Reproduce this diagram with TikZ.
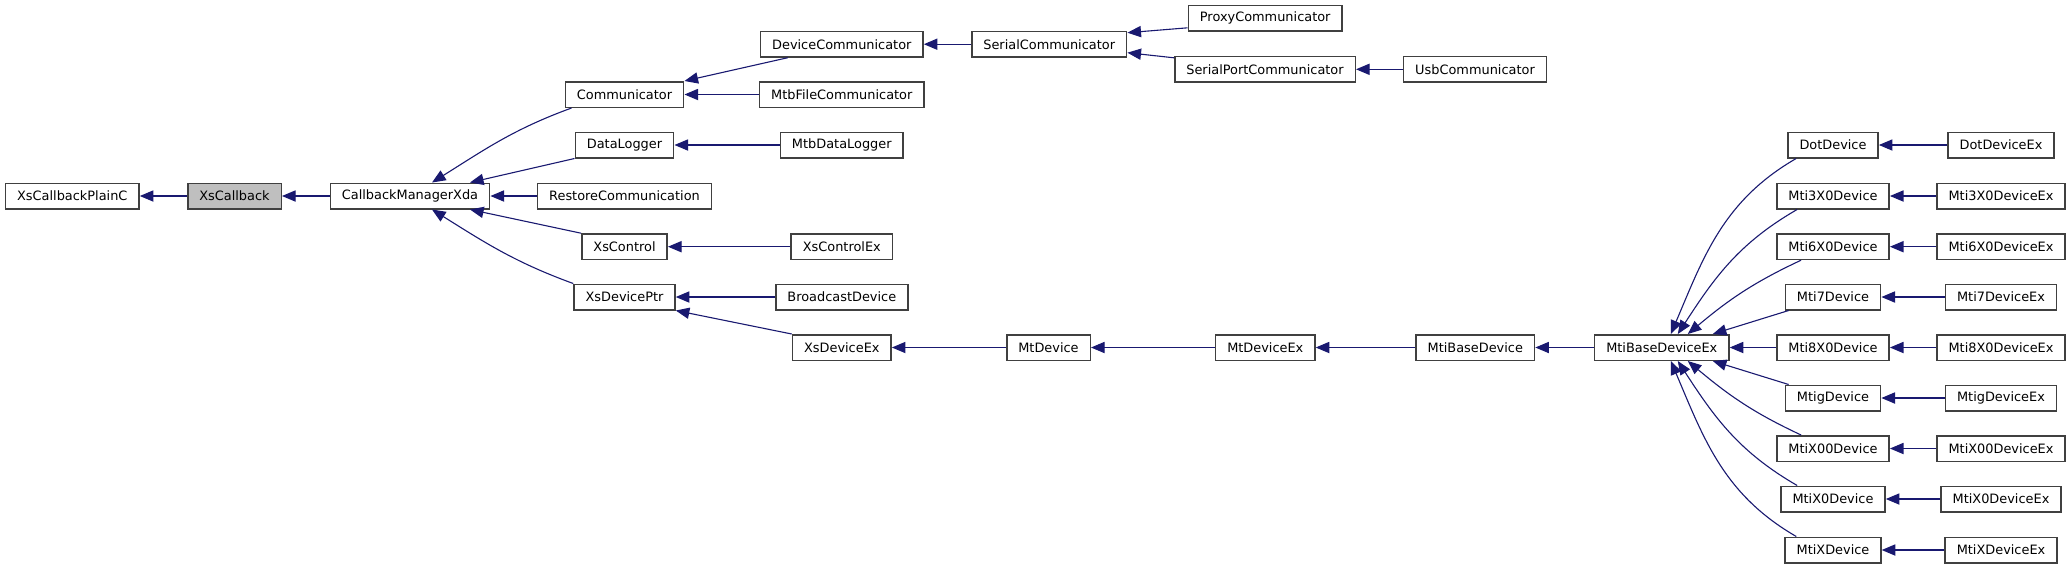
\documentclass[tikz,border=0pt]{standalone}
\usepackage{fontspec}
\setmainfont{DejaVu Sans}
\usepackage{tikz}
\usetikzlibrary{arrows.meta}
\definecolor{midnightblue}{RGB}{25,25,112}
\definecolor{boxgray}{RGB}{64,64,64}

\begin{document}
\begin{tikzpicture}[x=0.5pt, y=0.5pt,
  cls/.style={draw=boxgray, line width=0.75pt, fill=white, minimum height=12.75pt,
    inner xsep=5.8pt, inner ysep=0pt, font=\fontsize{6.45pt}{7.5pt}\selectfont},
  current/.style={cls, fill=black!25},
  edge/.style={midnightblue, line width=0.55pt, -{Triangle[length=6.8pt,width=5.6pt]}}]
\path[use as bounding box] (0,0) rectangle (2071,-569);

\node[cls] (xsCallbackPlainC) at (72.3,-196) {XsCallbackPlainC};
\node[current] (xsCallback) at (234.5,-196) {XsCallback};
\node[cls] (callbackManagerXda) at (410,-196) {CallbackManagerXda};

\node[cls] (communicator) at (624.5,-94.5) {Communicator};
\node[cls] (dataLogger) at (624.5,-145) {DataLogger};
\node[cls] (restoreCommunication) at (624.5,-196) {RestoreCommunication};
\node[cls] (xsControl) at (624.5,-246.7) {XsControl};
\node[cls] (xsDevicePtr) at (624.5,-297) {XsDevicePtr};

\node[cls] (deviceCommunicator) at (841.8,-44.2) {DeviceCommunicator};
\node[cls] (mtbFileCommunicator) at (841.8,-94.5) {MtbFileCommunicator};
\node[cls] (mtbDataLogger) at (841.8,-145) {MtbDataLogger};
\node[cls] (xsControlEx) at (841.8,-246.7) {XsControlEx};
\node[cls] (broadcastDevice) at (841.8,-297) {BroadcastDevice};
\node[cls] (xsDeviceEx) at (841.8,-347.5) {XsDeviceEx};

\node[cls] (serialCommunicator) at (1049.2,-44.2) {SerialCommunicator};
\node[cls] (mtDevice) at (1048.5,-347.5) {MtDevice};

\node[cls] (proxyCommunicator) at (1265.2,-18.3) {ProxyCommunicator};
\node[cls] (serialPortCommunicator) at (1265,-69.3) {SerialPortCommunicator};
\node[cls] (mtDeviceEx) at (1265.3,-347.5) {MtDeviceEx};

\node[cls] (usbCommunicator) at (1475,-69.3) {UsbCommunicator};
\node[cls] (mtiBaseDevice) at (1475.3,-347.5) {MtiBaseDevice};
\node[cls] (mtiBaseDeviceEx) at (1661.8,-347.5) {MtiBaseDeviceEx};

\node[cls] (dotDevice) at (1833,-145) {DotDevice};
\node[cls] (mti3X0Device) at (1833,-196) {Mti3X0Device};
\node[cls] (mti6X0Device) at (1833,-246.7) {Mti6X0Device};
\node[cls] (mti7Device) at (1833,-297) {Mti7Device};
\node[cls] (mti8X0Device) at (1833,-347.5) {Mti8X0Device};
\node[cls] (mtigDevice) at (1833,-398) {MtigDevice};
\node[cls] (mtiX00Device) at (1833,-448.5) {MtiX00Device};
\node[cls] (mtiX0Device) at (1833,-499) {MtiX0Device};
\node[cls] (mtiXDevice) at (1833,-550) {MtiXDevice};

\node[cls] (dotDeviceEx) at (2001,-145) {DotDeviceEx};
\node[cls] (mti3X0DeviceEx) at (2001,-196) {Mti3X0DeviceEx};
\node[cls] (mti6X0DeviceEx) at (2001,-246.7) {Mti6X0DeviceEx};
\node[cls] (mti7DeviceEx) at (2001,-297) {Mti7DeviceEx};
\node[cls] (mti8X0DeviceEx) at (2001,-347.5) {Mti8X0DeviceEx};
\node[cls] (mtigDeviceEx) at (2001,-398) {MtigDeviceEx};
\node[cls] (mtiX00DeviceEx) at (2001,-448.5) {MtiX00DeviceEx};
\node[cls] (mtiX0DeviceEx) at (2001,-499) {MtiX0DeviceEx};
\node[cls] (mtiXDeviceEx) at (2001,-550) {MtiXDeviceEx};

\draw[edge] (xsCallback.west) -- (xsCallbackPlainC.east);
\draw[edge] (callbackManagerXda.west) -- (xsCallback.east);

\draw[edge] ([shift={(7,0)}]communicator.south west) to[out=200,in=32] ([shift={(22,0)}]callbackManagerXda.north);
\draw[edge] (dataLogger.south west) -- ([shift={(60,0)}]callbackManagerXda.north);
\draw[edge] (restoreCommunication.west) -- (callbackManagerXda.east);
\draw[edge] (xsControl.north west) -- ([shift={(60,0)}]callbackManagerXda.south);
\draw[edge] (xsDevicePtr.north west) to[out=160,in=-32] ([shift={(22,0)}]callbackManagerXda.south);

\draw[edge] ([shift={(28,0)}]deviceCommunicator.south west) -- (communicator.north east);
\draw[edge] (mtbFileCommunicator.west) -- (communicator.east);
\draw[edge] (mtbDataLogger.west) -- (dataLogger.east);
\draw[edge] (xsControlEx.west) -- (xsControl.east);
\draw[edge] (broadcastDevice.west) -- (xsDevicePtr.east);
\draw[edge] (xsDeviceEx.north west) -- (xsDevicePtr.south east);

\draw[edge] (serialCommunicator.west) -- (deviceCommunicator.east);
\draw[edge] ([shift={(0,4)}]proxyCommunicator.south west) -- ([shift={(0,-2)}]serialCommunicator.north east);
\draw[edge] ([shift={(0,-2)}]serialPortCommunicator.north west) -- ([shift={(0,5)}]serialCommunicator.south east);
\draw[edge] (usbCommunicator.west) -- (serialPortCommunicator.east);

\draw[edge] (mtDevice.west) -- (xsDeviceEx.east);
\draw[edge] (mtDeviceEx.west) -- (mtDevice.east);
\draw[edge] (mtiBaseDevice.west) -- (mtDeviceEx.east);
\draw[edge] (mtiBaseDeviceEx.west) -- (mtiBaseDevice.east);

\draw[edge] ([shift={(9,0)}]dotDevice.south west) to[out=210,in=67] ([shift={(9,0)}]mtiBaseDeviceEx.north);
\draw[edge] ([shift={(21,0)}]mti3X0Device.south west) to[out=210,in=57] ([shift={(16,0)}]mtiBaseDeviceEx.north);
\draw[edge] ([shift={(25,0)}]mti6X0Device.south west) to[out=205,in=40] ([shift={(26,0)}]mtiBaseDeviceEx.north);
\draw[edge] ([shift={(4,0)}]mti7Device.south west) -- ([shift={(51,0)}]mtiBaseDeviceEx.north);
\draw[edge] (mti8X0Device.west) -- (mtiBaseDeviceEx.east);
\draw[edge] ([shift={(4,0)}]mtigDevice.north west) -- ([shift={(51,0)}]mtiBaseDeviceEx.south);
\draw[edge] ([shift={(25,0)}]mtiX00Device.north west) to[out=155,in=-40] ([shift={(26,0)}]mtiBaseDeviceEx.south);
\draw[edge] ([shift={(17,0)}]mtiX0Device.north west) to[out=150,in=-57] ([shift={(16,0)}]mtiBaseDeviceEx.south);
\draw[edge] ([shift={(12,0)}]mtiXDevice.north west) to[out=150,in=-67] ([shift={(9,0)}]mtiBaseDeviceEx.south);

\draw[edge] (dotDeviceEx.west) -- (dotDevice.east);
\draw[edge] (mti3X0DeviceEx.west) -- (mti3X0Device.east);
\draw[edge] (mti6X0DeviceEx.west) -- (mti6X0Device.east);
\draw[edge] (mti7DeviceEx.west) -- (mti7Device.east);
\draw[edge] (mti8X0DeviceEx.west) -- (mti8X0Device.east);
\draw[edge] (mtigDeviceEx.west) -- (mtigDevice.east);
\draw[edge] (mtiX00DeviceEx.west) -- (mtiX00Device.east);
\draw[edge] (mtiX0DeviceEx.west) -- (mtiX0Device.east);
\draw[edge] (mtiXDeviceEx.west) -- (mtiXDevice.east);

\end{tikzpicture}
\end{document}
